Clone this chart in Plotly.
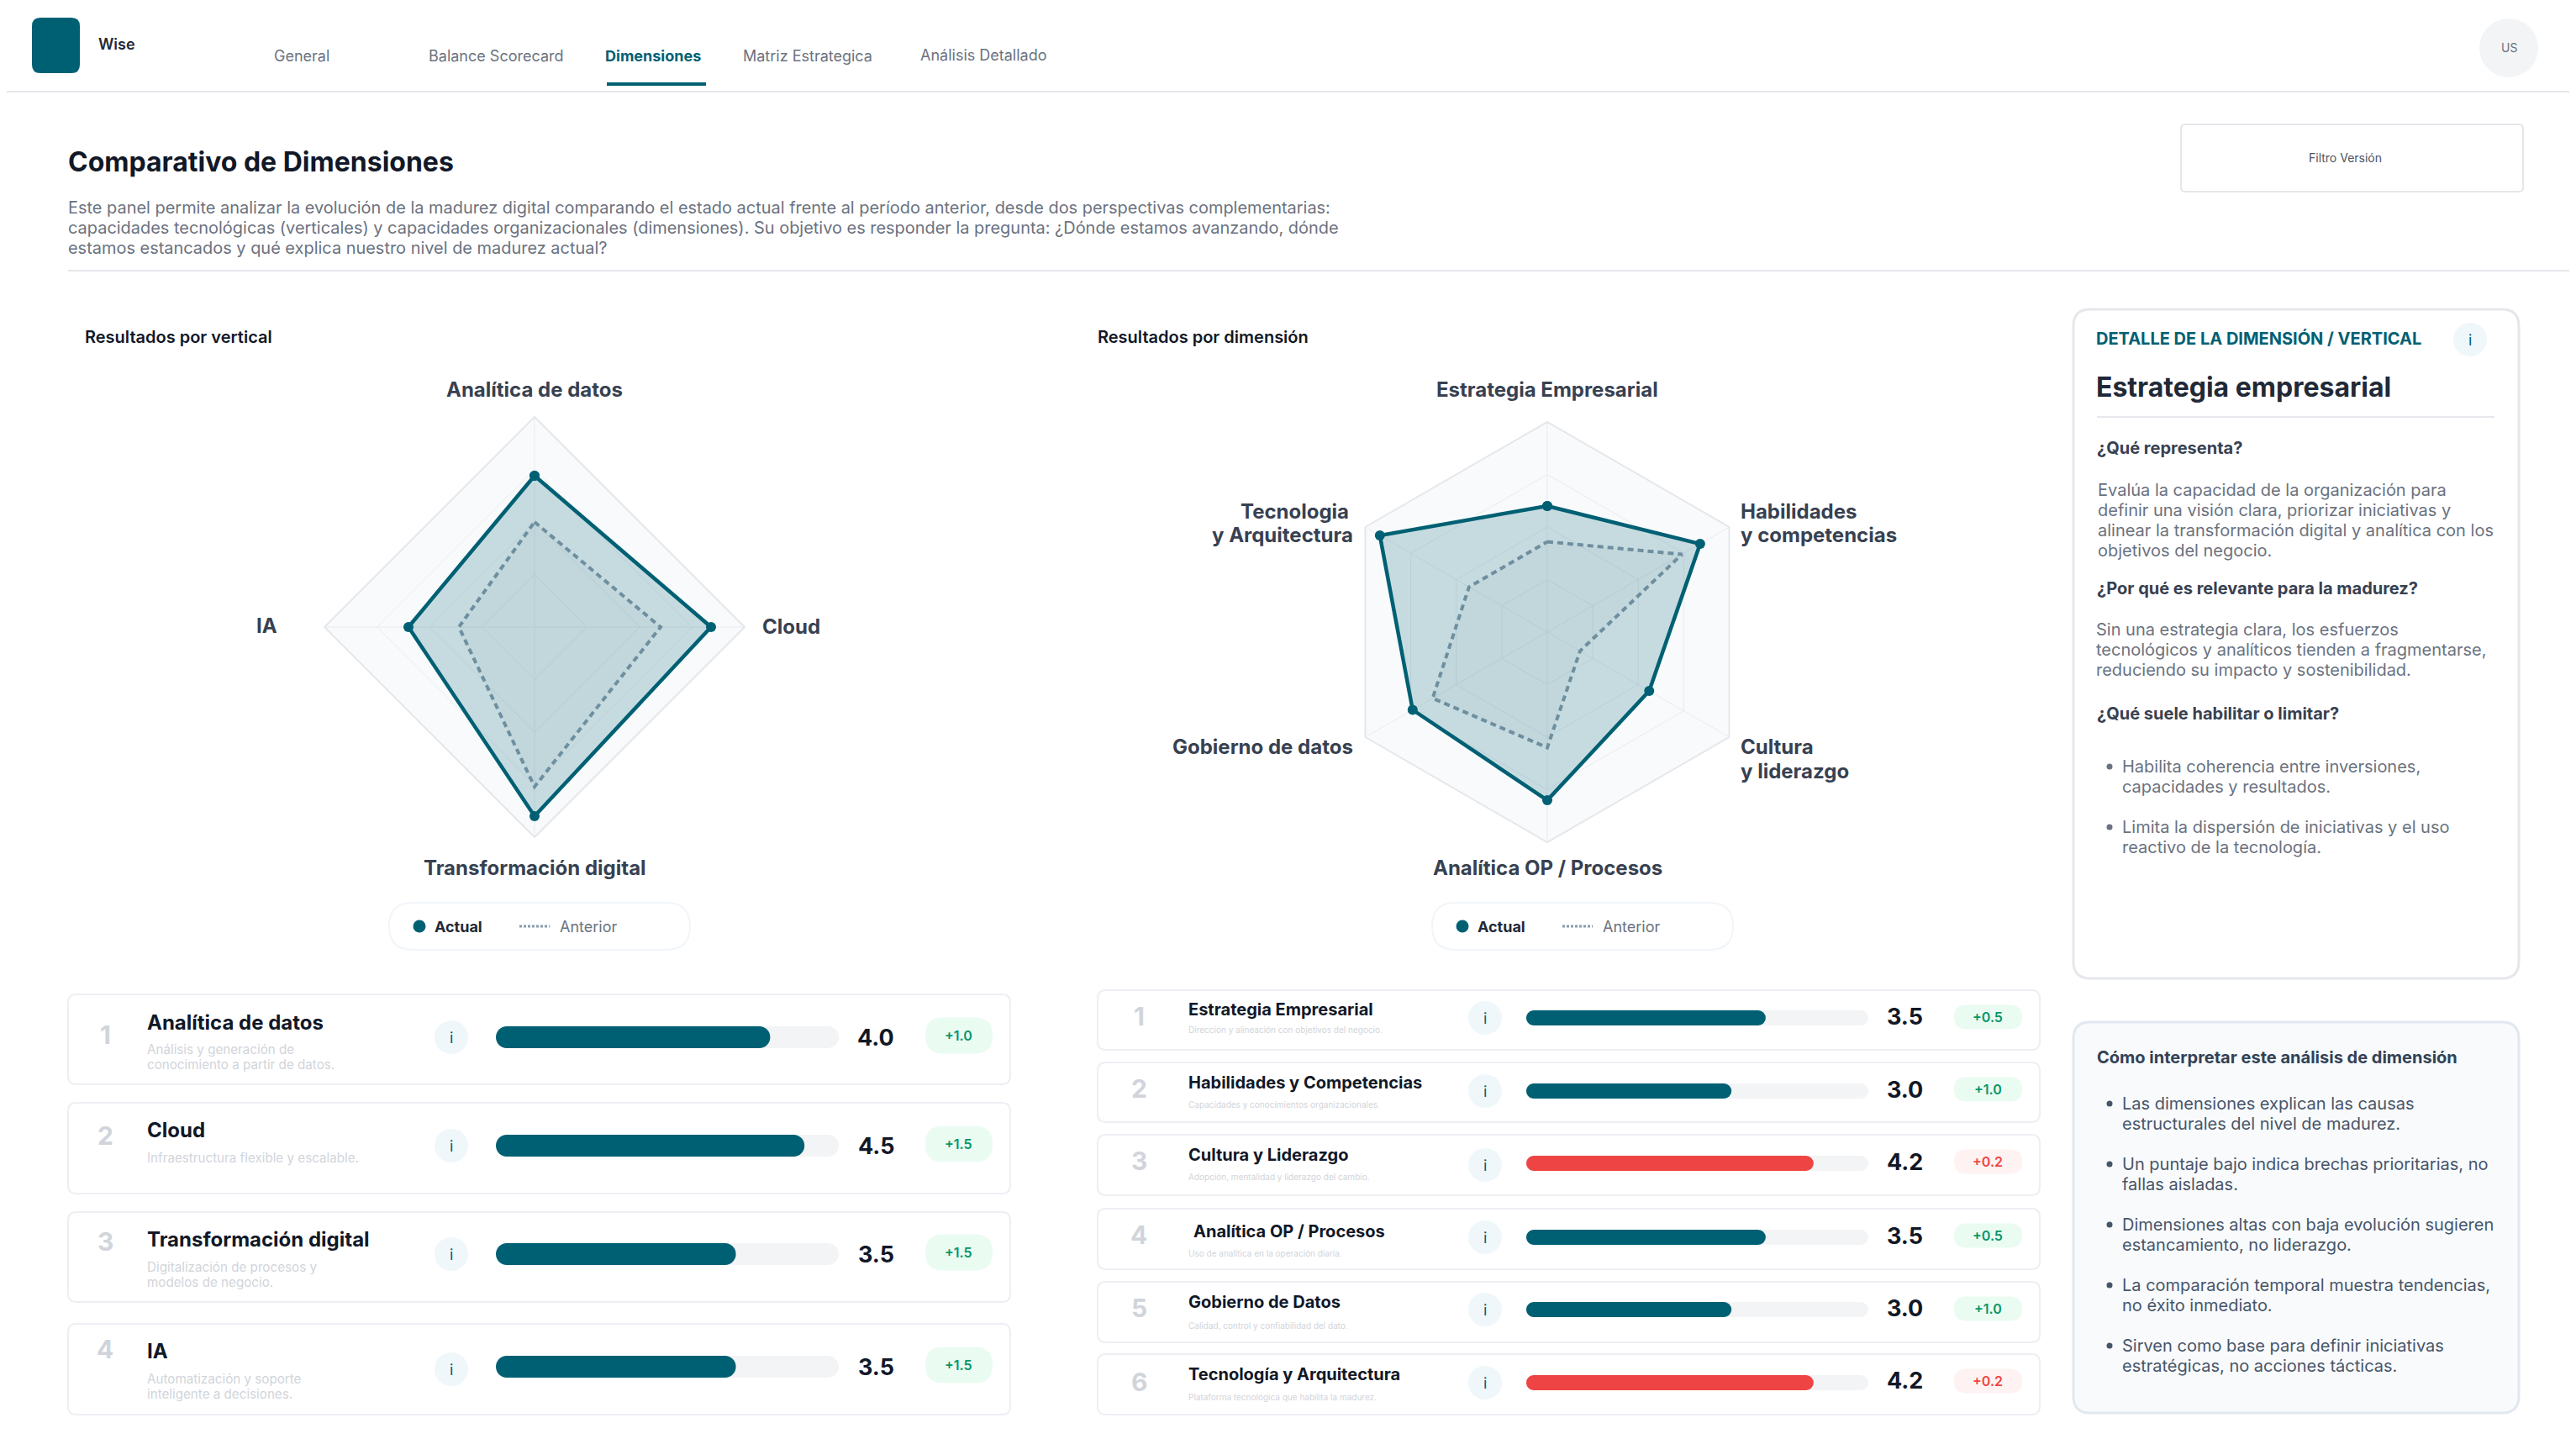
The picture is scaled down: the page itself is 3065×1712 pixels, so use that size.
import plotly.graph_objects as go

# datos de los radares
VERT_CATS = ["Analítica de datos", "Cloud", "Transformación digital", "IA"]
VERT_ACTUAL = [3.6, 4.2, 4.5, 3.0]
VERT_ANTERIOR = [2.5, 3.0, 3.8, 1.8]

DIM_CATS = ["Estrategia Empresarial", "Habilidades y competencias", "Cultura y liderazgo",
            "Analítica OP / Procesos", "Gobierno de datos", "Tecnologia y Arquitectura"]
DIM_ACTUAL = [3.0, 4.2, 2.8, 4.0, 3.7, 4.6]
DIM_ANTERIOR = [2.15, 3.7, 0.9, 2.75, 3.15, 2.15]

# datos de las listas
VERT_NAMES = ["Analítica de datos", "Cloud", "Transformación digital", "IA"]
VERT_DESC = [["Análisis y generación de", "conocimiento a partir de datos."],
             ["Infraestructura flexible y escalable."],
             ["Digitalización de procesos y", "modelos de negocio."],
             ["Automatización y soporte", "inteligente a decisiones."]]
VERT_SCORES = [4.0, 4.5, 3.5, 3.5]
VERT_DELTAS = ["+1.0", "+1.5", "+1.5", "+1.5"]

DIM_NAMES = ["Estrategia Empresarial", "Habilidades y Competencias", "Cultura y Liderazgo",
             "Analítica OP / Procesos", "Gobierno de Datos", "Tecnología y Arquitectura"]
DIM_DESC = ["Dirección y alineación con objetivos del negocio.",
            "Capacidades y conocimientos organizacionales.",
            "Adopción, mentalidad y liderazgo del cambio.",
            "Uso de analítica en la operación diaria.",
            "Calidad, control y confiabilidad del dato.",
            "Plataforma tecnológica que habilita la madurez."]
DIM_SCORES = [3.5, 3.0, 4.2, 3.5, 3.0, 4.2]
DIM_DELTAS = ["+0.5", "+1.0", "+0.2", "+0.5", "+1.0", "+0.2"]
DIM_ALERT = [False, False, True, False, False, True]

MAX_SCORE = 5

NAV_ITEMS = ["General", "Balance Scorecard", "Dimensiones", "Matriz Estrategica", "Análisis Detallado"]
INTRO = ["Este panel permite analizar la evolución de la madurez digital comparando el estado actual frente al período anterior, desde dos perspectivas complementarias:",
         "capacidades tecnológicas (verticales) y capacidades organizacionales (dimensiones). Su objetivo es responder la pregunta: ¿Dónde estamos avanzando, dónde",
         "estamos estancados y qué explica nuestro nivel de madurez actual?"]
DETAIL_1 = ["Evalúa la capacidad de la organización para", "definir una visión clara, priorizar iniciativas y",
            "alinear la transformación digital y analítica con los", "objetivos del negocio."]
DETAIL_2 = ["Sin una estrategia clara, los esfuerzos", "tecnológicos y analíticos tienden a fragmentarse,",
            "reduciendo su impacto y sostenibilidad."]
DETAIL_3 = [["Habilita coherencia entre inversiones,", "capacidades y resultados."],
            ["Limita la dispersión de iniciativas y el uso", "reactivo de la tecnología."]]
HOWTO = [["Las dimensiones explican las causas", "estructurales del nivel de madurez."],
         ["Un puntaje bajo indica brechas prioritarias, no", "fallas aisladas."],
         ["Dimensiones altas con baja evolución sugieren", "estancamiento, no liderazgo."],
         ["La comparación temporal muestra tendencias,", "no éxito inmediato."],
         ["Sirven como base para definir iniciativas", "estratégicas, no acciones tácticas."]]

TEAL = "#006073"
RED = "#EF4444"
GRID = "#E5E7EB"
FONT = "Inter"

# la pagina tiene 8px de margen en el body
OFF = 8
W = 3065 - OFF
H = 1712 - 2 * OFF


def px(x):
    return (x - OFF) / W


def py(y):
    return 1 - (y - OFF) / H


shapes = []
annotations = []


def text(x, y, s, size, color, weight=400, anchor="left"):
    # las anotaciones dejan un par de px de relleno alrededor del texto
    shift = {"left": -2, "right": 2, "center": 0}[anchor]
    annotations.append(dict(x=px(x + shift), y=py(y), xref="paper", yref="paper", text=s, showarrow=False,
                            xanchor=anchor, yanchor="middle",
                            font=dict(family=FONT, size=size, color=color, weight=weight)))


def card(x0, y0, x1, y1, r, fill="white", line=GRID, lw=2):
    path = (f"M {px(x0 + r)} {py(y0)} L {px(x1 - r)} {py(y0)} Q {px(x1)} {py(y0)} {px(x1)} {py(y0 + r)} "
            f"L {px(x1)} {py(y1 - r)} Q {px(x1)} {py(y1)} {px(x1 - r)} {py(y1)} "
            f"L {px(x0 + r)} {py(y1)} Q {px(x0)} {py(y1)} {px(x0)} {py(y1 - r)} "
            f"L {px(x0)} {py(y0 + r)} Q {px(x0)} {py(y0)} {px(x0 + r)} {py(y0)} Z")
    shapes.append(dict(type="path", path=path, xref="paper", yref="paper", fillcolor=fill,
                       line=dict(color=line, width=lw), layer="below"))


def hline(x0, x1, y, color=GRID, lw=2, dash="solid"):
    shapes.append(dict(type="line", x0=px(x0), x1=px(x1), y0=py(y), y1=py(y), xref="paper", yref="paper",
                       line=dict(color=color, width=lw, dash=dash), layer="below"))


def circle(cx, cy, r, fill):
    shapes.append(dict(type="circle", x0=px(cx - r), x1=px(cx + r), y0=py(cy - r), y1=py(cy + r),
                       xref="paper", yref="paper", fillcolor=fill, line=dict(width=0), layer="below"))


def info(cx, cy):
    circle(cx, cy, 20, "#EFF7FA")
    text(cx, cy, "i", 18, TEAL, anchor="center")


def left_caps(x, y0, y1):
    # plotly solo redondea la punta de la barra, el lado izquierdo se tapa con blanco
    r = (y1 - y0) / 2
    k = 0.45 * r
    path = (f"M {px(x - 1)} {py(y0 - 1)} L {px(x + r)} {py(y0 - 1)} L {px(x + r)} {py(y0)} "
            f"C {px(x + k)} {py(y0)} {px(x)} {py(y0 + k)} {px(x)} {py(y0 + r)} "
            f"C {px(x)} {py(y1 - k)} {px(x + k)} {py(y1)} {px(x + r)} {py(y1)} "
            f"L {px(x + r)} {py(y1 + 1)} L {px(x - 1)} {py(y1 + 1)} Z")
    shapes.append(dict(type="path", path=path, xref="paper", yref="paper", fillcolor="white",
                       line=dict(width=0), layer="above"))


fig = go.Figure()
axes = {}


def radar(idx, cats, actual, anterior, cx, cy, radius):
    polar = "polar" if idx == 1 else f"polar{idx}"
    fig.add_trace(go.Scatterpolar(r=anterior + anterior[:1], theta=cats + cats[:1], subplot=polar, mode="lines",
                                  line=dict(color="#8A9BAA", width=4, dash="7px,5px"),
                                  fill="toself", fillcolor="rgba(100,116,139,0.04)", showlegend=False))
    fig.add_trace(go.Scatterpolar(r=actual + actual[:1], theta=cats + cats[:1], subplot=polar, mode="lines+markers",
                                  line=dict(color=TEAL, width=4.5), marker=dict(color=TEAL, size=12),
                                  fill="toself", fillcolor="rgba(0,96,115,0.2)", showlegend=False))
    axes[polar] = dict(
        domain=dict(x=[px(cx - radius), px(cx + radius)], y=[py(cy + radius), py(cy - radius)]),
        gridshape="linear", bgcolor="#F8FAFC",
        radialaxis=dict(range=[0, MAX_SCORE], tickvals=[1.25, 2.5, 3.75, 5], showticklabels=False, ticks="",
                        showline=False, gridcolor="#E9ECF0", gridwidth=1),
        angularaxis=dict(direction="clockwise", rotation=90, showticklabels=False, ticks="",
                         gridcolor="#E9ECF0", gridwidth=1, linecolor=GRID, linewidth=2),
    )


radar(1, VERT_CATS, VERT_ACTUAL, VERT_ANTERIOR, 636, 746, 250)
radar(2, DIM_CATS, DIM_ACTUAL, DIM_ANTERIOR, 1841, 752, 250)

axis_count = 0


def score_bar(value, color, x0, x1, y0, y1):
    # pista y relleno en ejes separados: en el mismo eje overlay el relleno pierde el redondeo
    global axis_count
    for val, col in [(MAX_SCORE, "#F3F4F6"), (value, color)]:
        axis_count += 1
        n = "" if axis_count == 1 else str(axis_count)
        fig.add_trace(go.Bar(x=[val], y=[""], orientation="h", width=1,
                             marker=dict(color=col, line=dict(width=0), cornerradius=(y1 - y0) / 2),
                             xaxis=f"x{n}", yaxis=f"y{n}", showlegend=False))
        axes[f"xaxis{n}"] = dict(domain=[px(x0), px(x1)], range=[0, MAX_SCORE], visible=False, anchor=f"y{n}")
        axes[f"yaxis{n}"] = dict(domain=[py(y1), py(y0)], range=[-0.5, 0.5], visible=False, anchor=f"x{n}")
    left_caps(x0, y0, y1)


# cabecera
card(38, 21, 95, 87, 10, fill=TEAL, line=TEAL, lw=0)
text(117, 53, "Wise", 18, "#1F2937", 600)
nav_x = [326, 510, 720, 884, 1095]
nav_y = [66, 66, 66, 66, 65]
for name, x, y in zip(NAV_ITEMS, nav_x, nav_y):
    active = name == "Dimensiones"
    text(x, y, name, 18, TEAL if active else "#6B7280", 700 if active else 400)
shapes.append(dict(type="rect", x0=px(722), x1=px(840), y0=py(102), y1=py(98), xref="paper", yref="paper",
                   fillcolor=TEAL, line=dict(width=0), layer="below"))
hline(0, 3065, 109)
circle(2985, 57, 35, "#F3F4F6")
text(2985, 57, "US", 14, "#6B7280", anchor="center")

text(81, 192, "Comparativo de Dimensiones", 32, "#111827", 700)
for line, y in zip(INTRO, [247, 271, 295]):
    text(81, y, line, 19.95, "#6B7280")
hline(81, 3065, 322)
card(2595, 148, 3002, 228, 5)
text(2790, 187, "Filtro Versión", 14, "#4B5563", anchor="center")

# radares: titulos, etiquetas y leyendas
text(101, 401, "Resultados por vertical", 20, "#111827", 600)
text(1306, 401, "Resultados por dimensión", 20, "#111827", 600)
LABEL = "#374151"
text(636, 463, VERT_CATS[0], 24, LABEL, 700, "center")
text(907, 745, VERT_CATS[1], 24, LABEL, 700)
text(636, 1032, VERT_CATS[2], 24, LABEL, 700, "center")
text(317, 744, VERT_CATS[3], 24, LABEL, 700, "center")

text(1841, 463, DIM_CATS[0], 24, LABEL, 700, "center")
text(2071, 608, "Habilidades", 24, LABEL, 700)
text(2071, 637, "y competencias", 24, LABEL, 700)
text(2071, 888, "Cultura", 24, LABEL, 700)
text(2071, 917, "y liderazgo", 24, LABEL, 700)
text(1841, 1032, DIM_CATS[3], 24, LABEL, 700, "center")
text(1610, 888, DIM_CATS[4], 24, LABEL, 700, "right")
text(1605, 608, "Tecnologia", 24, LABEL, 700, "right")
text(1610, 637, "y Arquitectura", 24, LABEL, 700, "right")


def legend_pill(x0, x1, dot, actual_x, dash0, dash1, anterior_x):
    card(x0, 1074, x1, 1130, 28, line="#F1F5F9")
    circle(dot, 1102, 7.5, TEAL)
    text(actual_x, 1102, "Actual", 18, "#1F2937", 700)
    hline(dash0, dash1, 1102, color="#8A9BAA", lw=3, dash="3px,2px")
    text(anterior_x, 1102, "Anterior", 18, "#6B7280")


legend_pill(463, 821, 499, 517, 618, 654, 666)
legend_pill(1704, 2062, 1740, 1758, 1859, 1895, 1907)

# filas de verticales
GREEN_BG, GREEN_TXT = "#EAFBF2", "#059669"
RED_BG, RED_TXT = "#FEF2F2", "#EF4444"
v_cards = [(1183, 1290), (1312, 1420), (1442, 1549), (1575, 1683)]
v_rank = [1231, 1351, 1477, 1605]
v_name = [1216, 1344, 1474, 1607]
v_desc = [[1248, 1266], [1377], [1507, 1525], [1640, 1658]]
v_info = [1234, 1363, 1492, 1629]
v_bar = [1234, 1363, 1492, 1626]
v_badge = [1232, 1361, 1490, 1624]
for i, name in enumerate(VERT_NAMES):
    card(81, v_cards[i][0], 1202, v_cards[i][1], 10, line="#EDEFF3")
    text(125, v_rank[i], str(i + 1), 30, "#D1D5DB", 700, "center")
    text(175, v_name[i], name, 24, "#111827", 700)
    for line, y in zip(VERT_DESC[i], v_desc[i]):
        text(175, y, line, 15.2, "#D1D5DB")
    info(537, v_info[i])
    score_bar(VERT_SCORES[i], TEAL, 590, 998, v_bar[i] - 13, v_bar[i] + 13)
    text(1042, v_bar[i], f"{VERT_SCORES[i]:.1f}", 27, "#111827", 700, "center")
    card(1101, v_badge[i] - 21.5, 1181, v_badge[i] + 21.5, 21, fill=GREEN_BG, line=GREEN_BG, lw=0)
    text(1140, v_badge[i], VERT_DELTAS[i], 16, GREEN_TXT, 600, "center")

# filas de dimensiones
d_cards = [(1178, 1249), (1264, 1335), (1350, 1422), (1438, 1510), (1525, 1597), (1611, 1683)]
d_rank = [1209, 1295, 1381, 1469, 1556, 1644]
d_name = [1201, 1288, 1374, 1465, 1549, 1635]
d_name_x = [1414, 1414, 1414, 1420, 1414, 1414]
d_desc = [1225, 1314, 1400, 1491, 1577, 1662]
d_info = [1211, 1298, 1386, 1472, 1558, 1645]
d_bar = [1211, 1298, 1384, 1472, 1558, 1645]
d_value = [1209, 1296, 1382, 1470, 1556, 1642]
d_badge = [1210, 1296, 1382, 1470, 1557, 1643]
for i, name in enumerate(DIM_NAMES):
    card(1306, d_cards[i][0], 2427, d_cards[i][1], 10, line="#EDEFF3")
    text(1355, d_rank[i], str(i + 1), 30, "#D1D5DB", 700, "center")
    text(d_name_x[i], d_name[i], name, 20, "#111827", 700)
    text(1414, d_desc[i], DIM_DESC[i], 10, "#D1D5DB")
    info(1767, d_info[i])
    score_bar(DIM_SCORES[i], RED if DIM_ALERT[i] else TEAL, 1816, 2223, d_bar[i] - 9, d_bar[i] + 9)
    text(2266, d_value[i], f"{DIM_SCORES[i]:.1f}", 27, "#111827", 700, "center")
    bg, fg = (RED_BG, RED_TXT) if DIM_ALERT[i] else (GREEN_BG, GREEN_TXT)
    card(2325, d_badge[i] - 14.5, 2406, d_badge[i] + 14.5, 14.5, fill=bg, line=bg, lw=0)
    text(2365, d_badge[i], DIM_DELTAS[i], 16, fg, 600, "center")

# panel de detalle
card(2467, 368, 2997, 1164, 20, lw=3)
text(2494, 403, "DETALLE DE LA DIMENSIÓN / VERTICAL", 20, TEAL, 700)
info(2939, 404)
text(2494, 460, "Estrategia empresarial", 32, "#1F2937", 700)
hline(2495, 2968, 496)
text(2495, 533, "¿Qué representa?", 20, "#374151", 700)
for line, y in zip(DETAIL_1, [583, 607, 631, 655]):
    text(2496, y, line, 20, "#6B7280")
text(2495, 700, "¿Por qué es relevante para la madurez?", 20, "#374151", 700)
for line, y in zip(DETAIL_2, [749, 773, 797]):
    text(2494, y, line, 20, "#6B7280")
text(2495, 849, "¿Qué suele habilitar o limitar?", 20, "#374151", 700)
for lines, ys in zip(DETAIL_3, [(912, 936), (984, 1008)]):
    circle(2510, ys[0], 3.5, "#6B7280")
    for line, y in zip(lines, ys):
        text(2525, y, line, 20, "#6B7280")

# panel de interpretacion
card(2467, 1216, 2997, 1681, 20, fill="#F8FAFC", line="#E2E8F0", lw=3)
text(2495, 1258, "Cómo interpretar este análisis de dimensión", 20, "#334155", 700)
for lines, ys in zip(HOWTO, [(1313, 1337), (1385, 1409), (1457, 1481), (1529, 1553), (1601, 1625)]):
    circle(2510, ys[0], 3.5, "#475569")
    for line, y in zip(lines, ys):
        text(2525, y, line, 20, "#475569")

fig.update_layout(width=W, height=H, margin=dict(l=0, r=0, t=0, b=0), paper_bgcolor="white", plot_bgcolor="rgba(0,0,0,0)",
                  barmode="overlay", showlegend=False, shapes=shapes, annotations=annotations,
                  font=dict(family=FONT), **axes)

fig.write_html("out.html")
